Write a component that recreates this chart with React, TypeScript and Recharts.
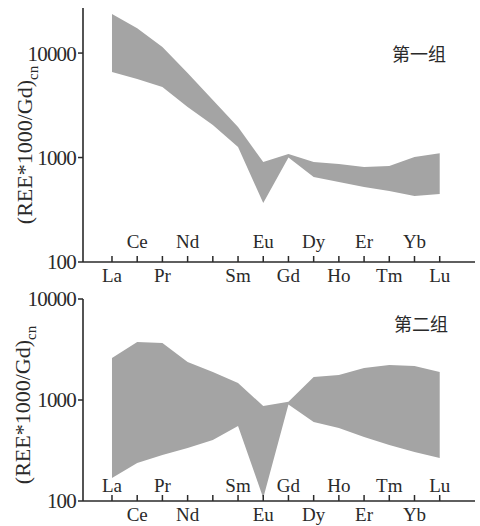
import React from 'react';

import { Area, ComposedChart, XAxis, YAxis } from 'recharts';

const ELEMENTS = ['La', 'Ce', 'Pr', 'Nd', 'Pm', 'Sm', 'Eu', 'Gd', 'Dy', 'Ho', 'Er', 'Tm', 'Yb', 'Lu'];
// labels drawn on the first row (below the axis in panel 1, inside in panel 2)
const ROW_A = ['La', 'Pr', 'Sm', 'Gd', 'Ho', 'Tm', 'Lu'];
const UNLABELLED = ['Pm'];

const G1_HIGH = [23600, 17300, 11400, 6440, 3550, 1960, 906, 1080, 906, 867, 811, 829, 1010, 1100];
const G1_LOW = [6580, 5640, 4730, 3040, 2050, 1260, 367, 1000, 651, 583, 522, 478, 428, 447];
const G2_HIGH = [2600, 3750, 3670, 2380, 1890, 1470, 872, 960, 1690, 1770, 2070, 2220, 2170, 1890];
const G2_LOW = [169, 238, 285, 335, 402, 553, 107, 900, 606, 528, 430, 358, 306, 267];

const Y_TICKS = [100, 1000, 10000];

const FONT = '"Liberation Serif", "Times New Roman", serif';
const INK = '#2a2a2a';
const FILL = '#a4a4a4';
const X_DOMAIN: [number, number] = [-1.15, 14.4];

interface PanelProps {
  high: number[];
  low: number[];
  yMax: number;
  height: number;
  marginTop: number;
  axisHeight: number;
  rowAOffset: number;
  rowBOffset: number;
}

const Panel = (props: PanelProps): JSX.Element => {
  const data = ELEMENTS.map((el, i) => ({
    i,
    el,
    range: [props.low[i], props.high[i]],
  }));

  // p.y sits on the axis line here (tickSize + tickMargin cancel out)
  const renderTick = (p: any) => {
    const name = ELEMENTS[p.payload.value];
    const label = UNLABELLED.includes(name) ? '' : name;
    const dy = ROW_A.includes(name) ? props.rowAOffset : props.rowBOffset;
    return (
      <g>
        <line x1={p.x} x2={p.x} y1={p.y} y2={p.y - 6} stroke={INK} strokeWidth={1.5} />
        <text
          x={p.x}
          y={p.y + dy}
          textAnchor='middle'
          fontSize={19}
          fontFamily={FONT}
          fill={INK}
        >
          {label}
        </text>
      </g>
    );
  };

  const frame = { stroke: INK, strokeWidth: 1.6 };

  return (
    <ComposedChart
      width={480}
      height={props.height}
      data={data}
      margin={{ top: props.marginTop, right: 5, bottom: 0, left: 0 }}
    >
      <XAxis
        type='number'
        dataKey='i'
        domain={X_DOMAIN}
        ticks={ELEMENTS.map((_, i) => i)}
        interval={0}
        allowDataOverflow
        tickSize={-6}
        tickMargin={6}
        tickLine={false}
        tick={renderTick}
        height={props.axisHeight}
        axisLine={frame}
      />
      <XAxis
        xAxisId='top'
        orientation='top'
        type='number'
        domain={X_DOMAIN}
        tick={false}
        tickLine={false}
        height={0}
        axisLine={frame}
      />
      <YAxis
        scale='log'
        type='number'
        domain={[100, props.yMax]}
        allowDataOverflow
        ticks={Y_TICKS}
        interval={0}
        width={83}
        tickSize={5}
        tickLine={{ stroke: INK, strokeWidth: 1.5 }}
        tick={{ fontSize: 21, fill: INK, fontFamily: FONT, letterSpacing: -0.8 }}
        axisLine={frame}
      />
      <YAxis
        yAxisId='right'
        orientation='right'
        width={0}
        tick={false}
        tickLine={false}
        axisLine={frame}
      />
      <Area
        type='linear'
        dataKey='range'
        stroke='none'
        fill={FILL}
        fillOpacity={1}
        isAnimationActive={false}
      />
    </ComposedChart>
  );
};

const YLabel = ({ x, y }: { x: number; y: number }): JSX.Element => (
  <div
    style={{
      position: 'absolute',
      left: x,
      top: y,
      transform: 'translate(-50%, -50%) rotate(-90deg)',
      whiteSpace: 'nowrap',
      fontFamily: FONT,
      fontSize: 22,
      color: INK,
    }}
  >
    (REE*1000/Gd)<sub style={{ fontSize: 15 }}>cn</sub>
  </div>
);

const Title = ({ x, y, text }: { x: number; y: number; text: string }): JSX.Element => (
  <div
    style={{
      position: 'absolute',
      left: x,
      top: y,
      fontFamily: '"Noto Sans CJK SC", sans-serif',
      fontSize: 18,
      color: INK,
      whiteSpace: 'nowrap',
    }}
  >
    {text}
  </div>
);

const App = (): JSX.Element => {
  return (
    <div
      style={{
        position: 'absolute',
        left: 0,
        top: 0,
        width: 480,
        height: 526,
        background: '#fff',
      }}
    >
      <div style={{ position: 'absolute', left: 0, top: 0 }}>
        <Panel
          high={G1_HIGH}
          low={G1_LOW}
          yMax={27000}
          height={290}
          marginTop={8}
          axisHeight={28}
          rowAOffset={20}
          rowBOffset={-14}
        />
      </div>
      <div style={{ position: 'absolute', left: 0, top: 280 }}>
        <Panel
          high={G2_HIGH}
          low={G2_LOW}
          yMax={10000}
          height={246}
          marginTop={19}
          axisHeight={25}
          rowAOffset={-9}
          rowBOffset={20}
        />
      </div>
      <YLabel x={27} y={145} />
      <YLabel x={25} y={405} />
      <Title x={392} y={40} text='第一组' />
      <Title x={394} y={310} text='第二组' />
    </div>
  );
};

export default App;
